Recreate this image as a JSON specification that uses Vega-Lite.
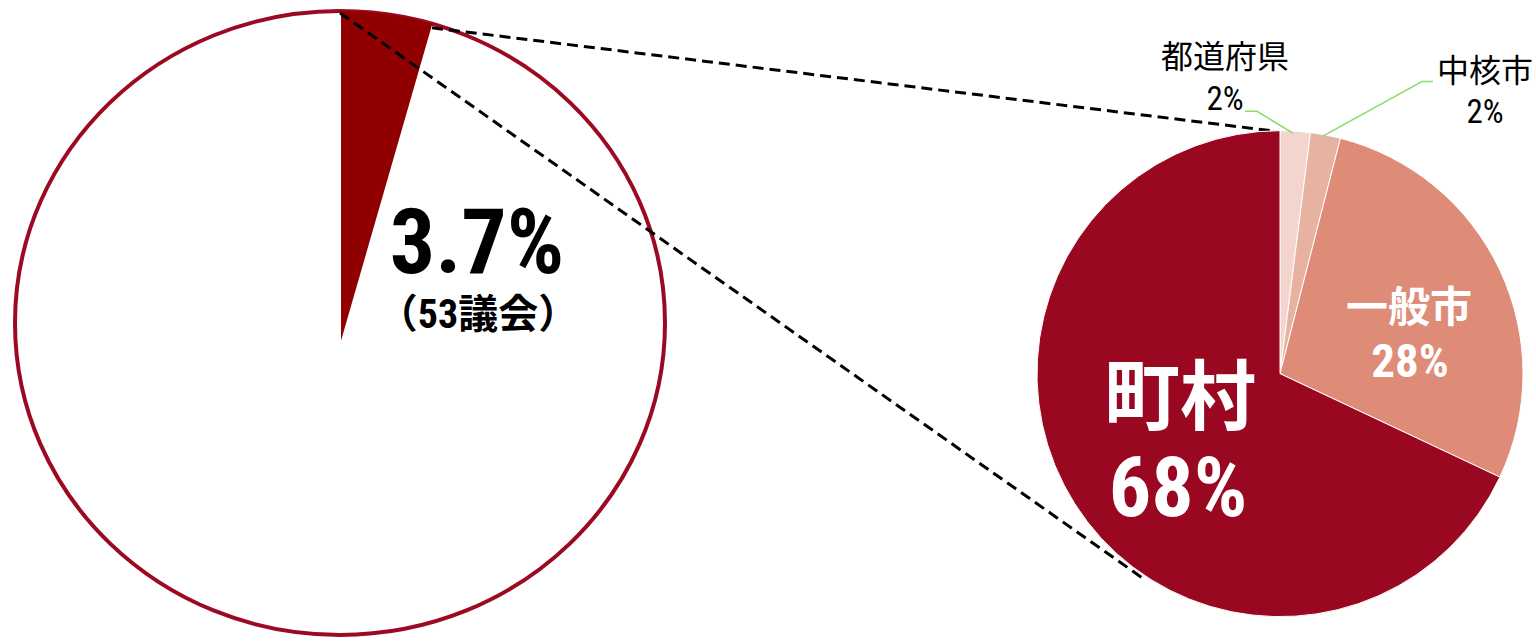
{
  "$schema": "https://vega.github.io/schema/vega-lite/v6.json",
  "width": 1536,
  "height": 641,
  "autosize": {"type": "fit", "contains": "padding"},
  "padding": 0,
  "background": "white",
  "config": {"view": {"stroke": null}},
  "datasets": {
    "outline": [{"区分": "全地方議会", "x": 340, "y": 325}],
    "wedge": [{"区分": "議会", "割合": 3.7, "x": 341, "y": 343}],
    "breakdown": [
      {"区分": "都道府県", "割合": 2, "順": 1, "x": 1280, "y": 376},
      {"区分": "中核市", "割合": 2, "順": 2, "x": 1280, "y": 376},
      {"区分": "一般市", "割合": 28, "順": 3, "x": 1280, "y": 376},
      {"区分": "町村", "割合": 68, "順": 4, "x": 1280, "y": 376}
    ],
    "connectors": [
      {"x": 340, "y": 13, "x2": 1143, "y2": 582},
      {"x": 432, "y": 28, "x2": 1275, "y2": 132}
    ],
    "leaders": [
      {"id": "都道府県", "i": 1, "x": 1245, "y": 112},
      {"id": "都道府県", "i": 2, "x": 1257, "y": 112},
      {"id": "都道府県", "i": 3, "x": 1293, "y": 134},
      {"id": "中核市", "i": 1, "x": 1433, "y": 82},
      {"id": "中核市", "i": 2, "x": 1422, "y": 82},
      {"id": "中核市", "i": 3, "x": 1321, "y": 138}
    ]
  },
  "layer": [
    {
      "data": {"name": "outline"},
      "mark": {"type": "point", "shape": "M -1 0 A 1 0.96 0 1 0 1 0 A 1 0.96 0 1 0 -1 0 Z", "size": 422500, "filled": true, "fill": "white", "stroke": "#9B0A22", "strokeWidth": 4, "opacity": 1},
      "encoding": {
        "x": {"field": "x", "type": "quantitative", "scale": {"domain": [0, 1536], "nice": false, "zero": false}, "axis": null},
        "y": {"field": "y", "type": "quantitative", "scale": {"domain": [0, 641], "reverse": true, "nice": false, "zero": false}, "axis": null}
      }
    },
    {
      "data": {"name": "wedge"},
      "mark": {"type": "arc", "outerRadius": 330, "color": "#900000"},
      "encoding": {
        "x": {"field": "x", "type": "quantitative", "scale": {"domain": [0, 1536], "nice": false, "zero": false}, "axis": null},
        "y": {"field": "y", "type": "quantitative", "scale": {"domain": [0, 641], "reverse": true, "nice": false, "zero": false}, "axis": null},
        "theta": {"field": "割合", "type": "quantitative", "stack": true, "scale": {"domain": [0, 82.9]}}
      }
    },
    {
      "data": {"name": "connectors"},
      "mark": {"type": "rule", "color": "black", "strokeWidth": 3, "strokeDash": [11, 6]},
      "encoding": {
        "x": {"field": "x", "type": "quantitative", "scale": {"domain": [0, 1536], "nice": false, "zero": false}, "axis": null},
        "y": {"field": "y", "type": "quantitative", "scale": {"domain": [0, 641], "reverse": true, "nice": false, "zero": false}, "axis": null},
        "x2": {"field": "x2"},
        "y2": {"field": "y2"}
      }
    },
    {
      "data": {"name": "breakdown"},
      "mark": {"type": "arc", "outerRadius": 243, "stroke": "white", "strokeWidth": 1},
      "encoding": {
        "x": {"field": "x", "type": "quantitative", "scale": {"domain": [0, 1536], "nice": false, "zero": false}, "axis": null},
        "y": {"field": "y", "type": "quantitative", "scale": {"domain": [0, 641], "reverse": true, "nice": false, "zero": false}, "axis": null},
        "theta": {"field": "割合", "type": "quantitative", "stack": true},
        "order": {"field": "順", "type": "quantitative"},
        "color": {"field": "区分", "type": "nominal", "scale": {"domain": ["都道府県", "中核市", "一般市", "町村"], "range": ["#F3D5CE", "#E8B2A3", "#DE8B77", "#9A0720"]}, "legend": null}
      }
    },
    {
      "data": {"name": "leaders"},
      "mark": {"type": "line", "color": "#8EDC6C", "strokeWidth": 1.6},
      "encoding": {
        "x": {"field": "x", "type": "quantitative", "scale": {"domain": [0, 1536], "nice": false, "zero": false}, "axis": null},
        "y": {"field": "y", "type": "quantitative", "scale": {"domain": [0, 641], "reverse": true, "nice": false, "zero": false}, "axis": null},
        "detail": {"field": "id"},
        "order": {"field": "i", "type": "quantitative"}
      }
    },
    {
      "data": {"values": [{"text": "3.7%", "x": 477, "y": 248}]},
      "mark": {"type": "text", "font": "Roboto Condensed, Roboto, Noto Sans CJK JP, sans-serif", "fontWeight": "bold", "fontSize": 90, "color": "black", "align": "center", "baseline": "middle"},
      "encoding": {
        "x": {"field": "x", "type": "quantitative", "scale": {"domain": [0, 1536], "nice": false, "zero": false}, "axis": null},
        "y": {"field": "y", "type": "quantitative", "scale": {"domain": [0, 641], "reverse": true, "nice": false, "zero": false}, "axis": null},
        "text": {"field": "text"}
      }
    },
    {
      "data": {"values": [{"text": "（53議会）", "x": 478, "y": 318}]},
      "mark": {"type": "text", "font": "Roboto Condensed, Roboto, Noto Sans CJK JP, sans-serif", "fontWeight": "bold", "fontSize": 40, "color": "black", "align": "center", "baseline": "middle"},
      "encoding": {
        "x": {"field": "x", "type": "quantitative", "scale": {"domain": [0, 1536], "nice": false, "zero": false}, "axis": null},
        "y": {"field": "y", "type": "quantitative", "scale": {"domain": [0, 641], "reverse": true, "nice": false, "zero": false}, "axis": null},
        "text": {"field": "text"}
      }
    },
    {
      "data": {"values": [{"text": "都道府県", "x": 1225, "y": 58}, {"text": "中核市", "x": 1485, "y": 72}]},
      "mark": {"type": "text", "font": "Noto Sans CJK JP, sans-serif", "fontSize": 32, "color": "black", "align": "center", "baseline": "middle"},
      "encoding": {
        "x": {"field": "x", "type": "quantitative", "scale": {"domain": [0, 1536], "nice": false, "zero": false}, "axis": null},
        "y": {"field": "y", "type": "quantitative", "scale": {"domain": [0, 641], "reverse": true, "nice": false, "zero": false}, "axis": null},
        "text": {"field": "text"}
      }
    },
    {
      "data": {"values": [{"text": "2%", "x": 1225, "y": 101}, {"text": "2%", "x": 1485, "y": 114}]},
      "mark": {"type": "text", "font": "Roboto Condensed, Roboto, sans-serif", "fontSize": 33, "color": "black", "align": "center", "baseline": "middle"},
      "encoding": {
        "x": {"field": "x", "type": "quantitative", "scale": {"domain": [0, 1536], "nice": false, "zero": false}, "axis": null},
        "y": {"field": "y", "type": "quantitative", "scale": {"domain": [0, 641], "reverse": true, "nice": false, "zero": false}, "axis": null},
        "text": {"field": "text"}
      }
    },
    {
      "data": {"values": [{"text": "一般市", "x": 1409, "y": 311}]},
      "mark": {"type": "text", "font": "Noto Sans CJK JP, sans-serif", "fontWeight": "bold", "fontSize": 42, "color": "white", "align": "center", "baseline": "middle"},
      "encoding": {
        "x": {"field": "x", "type": "quantitative", "scale": {"domain": [0, 1536], "nice": false, "zero": false}, "axis": null},
        "y": {"field": "y", "type": "quantitative", "scale": {"domain": [0, 641], "reverse": true, "nice": false, "zero": false}, "axis": null},
        "text": {"field": "text"}
      }
    },
    {
      "data": {"values": [{"text": "28%", "x": 1410, "y": 365}]},
      "mark": {"type": "text", "font": "Roboto Condensed, Roboto, sans-serif", "fontWeight": "bold", "fontSize": 47, "color": "white", "align": "center", "baseline": "middle"},
      "encoding": {
        "x": {"field": "x", "type": "quantitative", "scale": {"domain": [0, 1536], "nice": false, "zero": false}, "axis": null},
        "y": {"field": "y", "type": "quantitative", "scale": {"domain": [0, 641], "reverse": true, "nice": false, "zero": false}, "axis": null},
        "text": {"field": "text"}
      }
    },
    {
      "data": {"values": [{"text": "町村", "x": 1180, "y": 404}]},
      "mark": {"type": "text", "font": "Noto Sans CJK JP, sans-serif", "fontWeight": "bold", "fontSize": 76, "color": "white", "align": "center", "baseline": "middle"},
      "encoding": {
        "x": {"field": "x", "type": "quantitative", "scale": {"domain": [0, 1536], "nice": false, "zero": false}, "axis": null},
        "y": {"field": "y", "type": "quantitative", "scale": {"domain": [0, 641], "reverse": true, "nice": false, "zero": false}, "axis": null},
        "text": {"field": "text"}
      }
    },
    {
      "data": {"values": [{"text": "68%", "x": 1178, "y": 494}]},
      "mark": {"type": "text", "font": "Roboto Condensed, Roboto, sans-serif", "fontWeight": "bold", "fontSize": 84, "color": "white", "align": "center", "baseline": "middle"},
      "encoding": {
        "x": {"field": "x", "type": "quantitative", "scale": {"domain": [0, 1536], "nice": false, "zero": false}, "axis": null},
        "y": {"field": "y", "type": "quantitative", "scale": {"domain": [0, 641], "reverse": true, "nice": false, "zero": false}, "axis": null},
        "text": {"field": "text"}
      }
    }
  ],
  "resolve": {"scale": {"theta": "independent", "color": "independent"}}
}
